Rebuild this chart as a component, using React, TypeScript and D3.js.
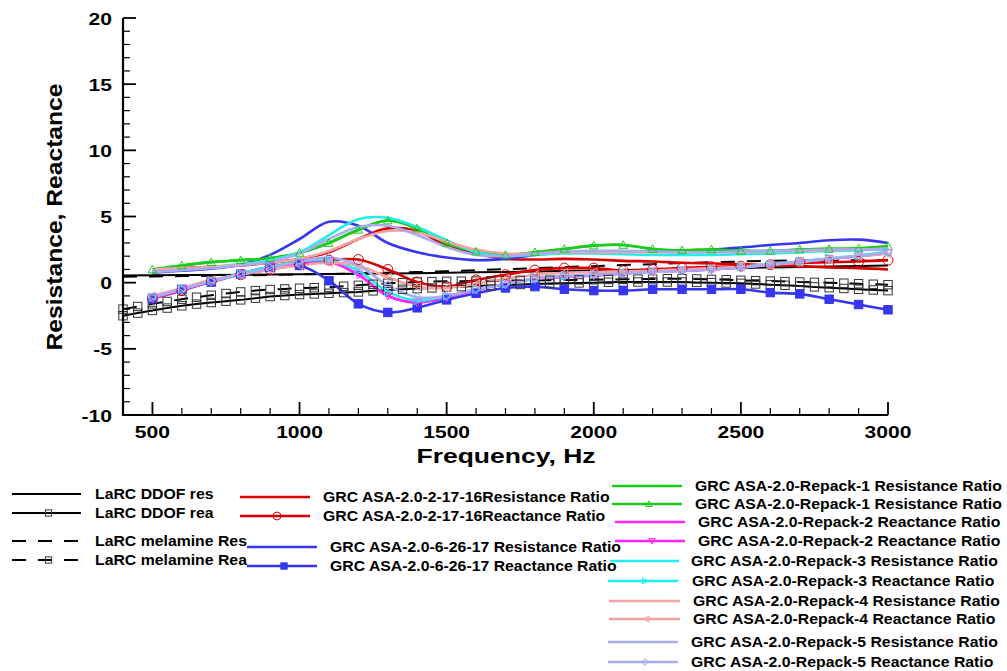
import React from 'react';
import * as d3 from 'd3';

// ---------- DATA ----------
const freqGRC = [500, 600, 700, 800, 900, 1000, 1100, 1200, 1300, 1400, 1500, 1600, 1700, 1800, 1900, 2000, 2100, 2200, 2300, 2400, 2500, 2600, 2700, 2800, 2900, 3000];
const freqLaRCRes = [400, 500, 600, 700, 800, 900, 1000, 1100, 1200, 1300, 1400, 1500, 1600, 1700, 1800, 1900, 2000, 2100, 2200, 2300, 2400, 2500, 2600, 2700, 2800, 2900, 3000];
const freqLaRCRea = [400, 450, 500, 550, 600, 650, 700, 750, 800, 850, 900, 950, 1000, 1050, 1100, 1150, 1200, 1250, 1300, 1350, 1400, 1450, 1500, 1550, 1600, 1650, 1700, 1750, 1800, 1850, 1900, 1950, 2000, 2050, 2100, 2150, 2200, 2250, 2300, 2350, 2400, 2450, 2500, 2550, 2600, 2650, 2700, 2750, 2800, 2850, 2900, 2950, 3000];

const larcDdofRes = [0.55, 0.56, 0.57, 0.58, 0.6, 0.61, 0.63, 0.65, 0.67, 0.69, 0.72, 0.75, 0.78, 0.81, 0.85, 0.88, 0.92, 0.96, 1.0, 1.04, 1.07, 1.11, 1.15, 1.19, 1.22, 1.26, 1.3];
const larcDdofRea = [-2.5, -2.3, -2.1, -1.92, -1.75, -1.62, -1.5, -1.4, -1.3, -1.17, -1.05, -0.97, -0.9, -0.85, -0.8, -0.75, -0.7, -0.62, -0.55, -0.5, -0.45, -0.4, -0.35, -0.3, -0.25, -0.21, -0.18, -0.14, -0.1, -0.07, -0.05, -0.02, 0.0, 0.03, 0.05, 0.05, 0.05, 0.05, 0.05, 0.02, 0.0, -0.02, -0.05, -0.1, -0.15, -0.2, -0.25, -0.32, -0.38, -0.44, -0.5, -0.55, -0.6];
const larcMelRes = [0.45, 0.47, 0.5, 0.52, 0.55, 0.58, 0.62, 0.66, 0.7, 0.75, 0.8, 0.87, 0.95, 1.02, 1.1, 1.18, 1.25, 1.33, 1.4, 1.48, 1.55, 1.6, 1.65, 1.68, 1.7, 1.7, 1.7];
const larcMelRea = [-2.0, -1.8, -1.6, -1.42, -1.25, -1.1, -0.95, -0.82, -0.7, -0.6, -0.52, -0.47, -0.42, -0.38, -0.34, -0.27, -0.2, -0.12, -0.05, 0.0, 0.05, 0.08, 0.1, 0.11, 0.12, 0.14, 0.15, 0.17, 0.18, 0.19, 0.2, 0.21, 0.22, 0.24, 0.25, 0.27, 0.28, 0.3, 0.3, 0.28, 0.25, 0.22, 0.18, 0.15, 0.12, 0.08, 0.05, 0.02, 0.0, -0.04, -0.08, -0.12, -0.15];

const redRes = [1.0, 1.1, 1.2, 1.3, 1.5, 1.8, 2.3, 3.3, 4.1, 3.9, 2.8, 2.2, 1.8, 1.75, 1.8, 1.75, 1.65, 1.6, 1.5, 1.45, 1.4, 1.3, 1.25, 1.15, 1.1, 1.0];
const redRea = [-1.2, -0.6, 0.1, 0.6, 1.0, 1.35, 1.7, 1.75, 1.0, 0.05, -0.3, 0.2, 0.6, 0.95, 1.1, 1.1, 0.9, 1.0, 1.1, 1.2, 1.25, 1.35, 1.5, 1.55, 1.6, 1.7];
const blueRes = [0.75, 0.9, 1.05, 1.35, 2.1, 3.3, 4.6, 4.3, 3.0, 2.3, 1.9, 1.7, 1.8, 2.1, 2.3, 2.35, 2.35, 2.35, 2.35, 2.5, 2.65, 2.85, 3.0, 3.2, 3.25, 3.0];
const blueRea = [-1.2, -0.5, 0.05, 0.65, 1.15, 1.3, 0.15, -1.6, -2.25, -1.9, -1.3, -0.8, -0.4, -0.3, -0.5, -0.6, -0.6, -0.5, -0.5, -0.5, -0.5, -0.75, -0.85, -1.25, -1.65, -2.05];
const greenRes = [1.0, 1.3, 1.55, 1.7, 1.85, 2.25, 3.0, 4.0, 4.7, 4.1, 3.0, 2.35, 2.1, 2.3, 2.55, 2.8, 2.85, 2.55, 2.45, 2.5, 2.4, 2.4, 2.5, 2.55, 2.6, 2.75];
const magentaRea = [-1.2, -0.55, 0.1, 0.7, 1.2, 1.5, 1.6, 0.6, -1.0, -1.5, -1.1, -0.55, -0.1, 0.3, 0.45, 0.55, 0.7, 0.85, 0.9, 1.0, 1.15, 1.35, 1.6, 1.8, 2.0, 2.25];
const cyanRes = [0.9, 1.0, 1.2, 1.4, 1.7, 2.3, 3.6, 4.8, 4.9, 4.2, 3.2, 2.3, 2.0, 2.1, 2.2, 2.2, 2.15, 2.1, 2.1, 2.1, 2.15, 2.2, 2.3, 2.4, 2.45, 2.55];
const cyanRea = [-1.1, -0.5, 0.15, 0.7, 1.2, 1.6, 1.7, 0.9, -0.7, -1.35, -1.0, -0.5, -0.1, 0.3, 0.5, 0.6, 0.75, 0.85, 0.95, 1.05, 1.2, 1.4, 1.6, 1.85, 2.05, 2.35];
const pinkRes = [1.0, 1.1, 1.2, 1.35, 1.5, 1.8, 2.4, 3.3, 3.9, 3.8, 3.1, 2.5, 2.2, 2.2, 2.3, 2.3, 2.3, 2.3, 2.3, 2.3, 2.3, 2.35, 2.4, 2.45, 2.5, 2.55];
const pinkRea = [-1.0, -0.4, 0.2, 0.6, 1.0, 1.3, 1.5, 1.3, 0.4, -0.3, -0.4, -0.1, 0.3, 0.6, 0.75, 0.8, 0.85, 0.9, 1.0, 1.1, 1.2, 1.35, 1.55, 1.8, 2.0, 2.2];
const lavRes = [0.8, 0.95, 1.1, 1.3, 1.6, 2.2, 3.3, 4.2, 4.3, 3.6, 2.7, 2.1, 2.0, 2.2, 2.35, 2.4, 2.4, 2.35, 2.3, 2.3, 2.35, 2.4, 2.45, 2.5, 2.5, 2.55];
const lavRea = [-1.1, -0.5, 0.1, 0.6, 1.1, 1.6, 1.9, 1.3, -0.2, -1.1, -1.0, -0.5, -0.1, 0.3, 0.5, 0.6, 0.7, 0.8, 0.9, 1.0, 1.15, 1.35, 1.55, 1.8, 2.0, 2.3];

const xTickValues = [500, 1000, 1500, 2000, 2500, 3000];
const yTickValues = [-10, -5, 0, 5, 10, 15, 20];

type Marker = 'none' | 'square' | 'squareFill' | 'circle' | 'triUp' | 'triDown' | 'triRight' | 'triLeft' | 'diamond';
interface Series { label: string; xs: number[]; ys: number[]; color: string; width: number; dash?: string; marker: Marker; smooth: boolean; }

const C_RED = '#d80000';
const C_BLUE = '#3535f2';
const C_GREEN = '#1ccc1c';
const C_MAG = '#ff22ff';
const C_CYAN = '#22eeee';
const C_PINK = '#f4a4a4';
const C_LAV = '#aaaaf2';

const series: Series[] = [
  { label: 'LaRC DDOF res', xs: freqLaRCRes, ys: larcDdofRes, color: '#000', width: 2, marker: 'none', smooth: false },
  { label: 'LaRC DDOF rea', xs: freqLaRCRea, ys: larcDdofRea, color: '#000', width: 2, marker: 'square', smooth: false },
  { label: 'LaRC melamine Res', xs: freqLaRCRes, ys: larcMelRes, color: '#000', width: 2, dash: '14,12', marker: 'none', smooth: false },
  { label: 'LaRC melamine Rea', xs: freqLaRCRea, ys: larcMelRea, color: '#000', width: 2, dash: '14,12', marker: 'square', smooth: false },
  { label: 'GRC ASA-2.0-2-17-16Resistance Ratio', xs: freqGRC, ys: redRes, color: C_RED, width: 2.6, marker: 'none', smooth: true },
  { label: 'GRC ASA-2.0-2-17-16Reactance Ratio', xs: freqGRC, ys: redRea, color: C_RED, width: 2.6, marker: 'circle', smooth: true },
  { label: 'GRC ASA-2.0-6-26-17 Resistance Ratio', xs: freqGRC, ys: blueRes, color: C_BLUE, width: 2.6, marker: 'none', smooth: true },
  { label: 'GRC ASA-2.0-6-26-17 Reactance Ratio', xs: freqGRC, ys: blueRea, color: C_BLUE, width: 2.6, marker: 'squareFill', smooth: true },
  { label: 'GRC ASA-2.0-Repack-1 Resistance Ratio', xs: freqGRC, ys: greenRes, color: C_GREEN, width: 2.6, marker: 'none', smooth: true },
  { label: 'GRC ASA-2.0-Repack-1 Resistance Ratio', xs: freqGRC, ys: greenRes, color: C_GREEN, width: 2.6, marker: 'triUp', smooth: true },
  { label: 'GRC ASA-2.0-Repack-2 Reactance Ratio', xs: freqGRC, ys: magentaRea, color: C_MAG, width: 2.6, marker: 'none', smooth: true },
  { label: 'GRC ASA-2.0-Repack-2 Reactance Ratio', xs: freqGRC, ys: magentaRea, color: C_MAG, width: 2.6, marker: 'triDown', smooth: true },
  { label: 'GRC ASA-2.0-Repack-3 Resistance Ratio', xs: freqGRC, ys: cyanRes, color: C_CYAN, width: 2.6, marker: 'none', smooth: true },
  { label: 'GRC ASA-2.0-Repack-3 Reactance Ratio', xs: freqGRC, ys: cyanRea, color: C_CYAN, width: 2.6, marker: 'triRight', smooth: true },
  { label: 'GRC ASA-2.0-Repack-4 Resistance Ratio', xs: freqGRC, ys: pinkRes, color: C_PINK, width: 2.6, marker: 'none', smooth: true },
  { label: 'GRC ASA-2.0-Repack-4 Reactance Ratio', xs: freqGRC, ys: pinkRea, color: C_PINK, width: 2.6, marker: 'triLeft', smooth: true },
  { label: 'GRC ASA-2.0-Repack-5 Resistance Ratio', xs: freqGRC, ys: lavRes, color: C_LAV, width: 2.6, marker: 'none', smooth: true },
  { label: 'GRC ASA-2.0-Repack-5 Reactance Ratio', xs: freqGRC, ys: lavRea, color: C_LAV, width: 2.6, marker: 'diamond', smooth: true },
];

// legend layout: [lineX0, lineX1, lineY, textX]
const legendLayout: [number, number, number, number][] = [
  [12, 81, 494, 95],
  [12, 81, 513, 95],
  [12, 81, 541, 95],
  [12, 81, 560, 95],
  [240, 310, 497, 323],
  [240, 310, 516, 323],
  [247, 317, 547, 330],
  [247, 317, 566, 330],
  [612, 682, 486, 695],
  [612, 682, 504, 695],
  [615, 685, 522, 698],
  [615, 685, 541, 698],
  [610, 679, 561, 691],
  [608, 678, 581, 692],
  [609, 680, 601, 693],
  [609, 680, 619, 693],
  [608, 678, 642, 691],
  [608, 678, 662, 691],
];

function markerEl(m: Marker, cx: number, cy: number, color: string, key: string | number, scale = 1) {
  const s = 4.2 * scale;
  const sw = 1;
  switch (m) {
    case 'square':
      return <rect key={key} x={cx - s} y={cy - s} width={2 * s} height={2 * s} fill="none" stroke="#333" strokeWidth={1} />;
    case 'squareFill':
      return <rect key={key} x={cx - s} y={cy - s} width={2 * s} height={2 * s} fill={color} stroke={color} strokeWidth={1} />;
    case 'circle':
      return <circle key={key} cx={cx} cy={cy} r={s + 0.8} fill="none" stroke={color} strokeWidth={sw} />;
    case 'triUp':
      return <polygon key={key} points={`${cx},${cy - s} ${cx + s},${cy + s * 0.8} ${cx - s},${cy + s * 0.8}`} fill="none" stroke={color} strokeWidth={sw} />;
    case 'triDown':
      return <polygon key={key} points={`${cx},${cy + s} ${cx + s},${cy - s * 0.8} ${cx - s},${cy - s * 0.8}`} fill="none" stroke={color} strokeWidth={sw} />;
    case 'triRight':
      return <polygon key={key} points={`${cx + s},${cy} ${cx - s * 0.8},${cy - s} ${cx - s * 0.8},${cy + s}`} fill="none" stroke={color} strokeWidth={sw} />;
    case 'triLeft':
      return <polygon key={key} points={`${cx - s},${cy} ${cx + s * 0.8},${cy - s} ${cx + s * 0.8},${cy + s}`} fill="none" stroke={color} strokeWidth={sw} />;
    case 'diamond':
      return <polygon key={key} points={`${cx},${cy - s * 1.1} ${cx + s},${cy} ${cx},${cy + s * 1.1} ${cx - s},${cy}`} fill="none" stroke={color} strokeWidth={sw} />;
    default:
      return null;
  }
}

export default function App() {
  const W = 1007, H = 671;
  const x = d3.scaleLinear().domain([400, 3000]).range([123, 888]);
  const y = d3.scaleLinear().domain([-10, 20]).range([415, 18]);
  const font = '"Liberation Sans", Arial, Helvetica, sans-serif';

  const xMinor = d3.range(500, 3001, 100).filter((v) => v % 500 !== 0);
  const yMinor = d3.range(-10, 21, 1).filter((v) => v % 5 !== 0);

  const lineSmooth = d3.line<[number, number]>().x((d) => x(d[0])).y((d) => y(d[1])).curve(d3.curveCatmullRom.alpha(0.5));
  const lineLinear = d3.line<[number, number]>().x((d) => x(d[0])).y((d) => y(d[1]));

  const tickSX = 1.24;
  const legSX = 1.13;

  return (
    <svg width={W} height={H} style={{ position: 'absolute', left: 0, top: 0, background: '#fff' }} fontFamily={font}>
      <rect x={0} y={0} width={W} height={H} fill="#fff" />
      {/* series lines */}
      <g>
        {series.map((s, i) => {
          const pts = s.xs.map((xv, j) => [xv, s.ys[j]] as [number, number]);
          const gen = s.smooth ? lineSmooth : lineLinear;
          return <path key={i} d={gen(pts) || ''} fill="none" stroke={s.color} strokeWidth={s.width} strokeDasharray={s.dash} strokeLinejoin="round" />;
        })}
      </g>
      {/* markers */}
      <g>
        {series.map((s, i) =>
          s.marker === 'none' ? null : (
            <g key={i}>{s.xs.map((xv, j) => markerEl(s.marker, x(xv), y(s.ys[j]), s.color, j))}</g>
          )
        )}
      </g>
      {/* axes */}
      <g stroke="#000">
        <line x1={123} y1={y(20)} x2={123} y2={416} strokeWidth={2.2} />
        <line x1={122} y1={415} x2={x(3000)} y2={415} strokeWidth={2.2} />
        {xTickValues.map((v) => (
          <line key={'xM' + v} x1={x(v)} x2={x(v)} y1={415} y2={402} strokeWidth={1.8} />
        ))}
        {xMinor.map((v) => (
          <line key={'xm' + v} x1={x(v)} x2={x(v)} y1={415} y2={408} strokeWidth={1.2} />
        ))}
        {yTickValues.map((v) => (
          <line key={'yM' + v} x1={123} x2={136} y1={y(v)} y2={y(v)} strokeWidth={1.8} />
        ))}
        {yMinor.map((v) => (
          <line key={'ym' + v} x1={123} x2={130} y1={y(v)} y2={y(v)} strokeWidth={1.2} />
        ))}
      </g>
      <g fontWeight="bold" fontSize={17} fill="#000">
        {xTickValues.map((v) => (
          <text key={'xl' + v} transform={`translate(${x(v)},438) scale(${tickSX},1)`} textAnchor="middle">{v}</text>
        ))}
        {yTickValues.map((v) => (
          <text key={'yl' + v} transform={`translate(112,${y(v) + 6.5}) scale(${tickSX},1)`} textAnchor="end">{v}</text>
        ))}
      </g>
      <text x={506} y={463} textAnchor="middle" fontWeight="bold" fontSize={21} textLength={179} lengthAdjust="spacingAndGlyphs">Frequency, Hz</text>
      <text transform={`translate(62,217) rotate(-90)`} textAnchor="middle" fontWeight="bold" fontSize={22} textLength={267} lengthAdjust="spacingAndGlyphs">Resistance, Reactance</text>
      {/* legend */}
      <g>
        {series.map((s, i) => {
          const [x0, x1, ly, tx] = legendLayout[i];
          return (
            <g key={i}>
              <line x1={x0} x2={x1} y1={ly} y2={ly} stroke={s.color} strokeWidth={s.color === '#000' ? 2 : 2.4} strokeDasharray={s.dash} />
              {s.marker !== 'none' ? markerEl(s.marker, (x0 + x1) / 2 + 2, ly, s.color, 'm', 0.75) : null}
              <text transform={`translate(${tx},${ly + 5}) scale(${legSX},1)`} fontWeight="bold" fontSize={14} fill="#000">{s.label}</text>
            </g>
          );
        })}
      </g>
    </svg>
  );
}
